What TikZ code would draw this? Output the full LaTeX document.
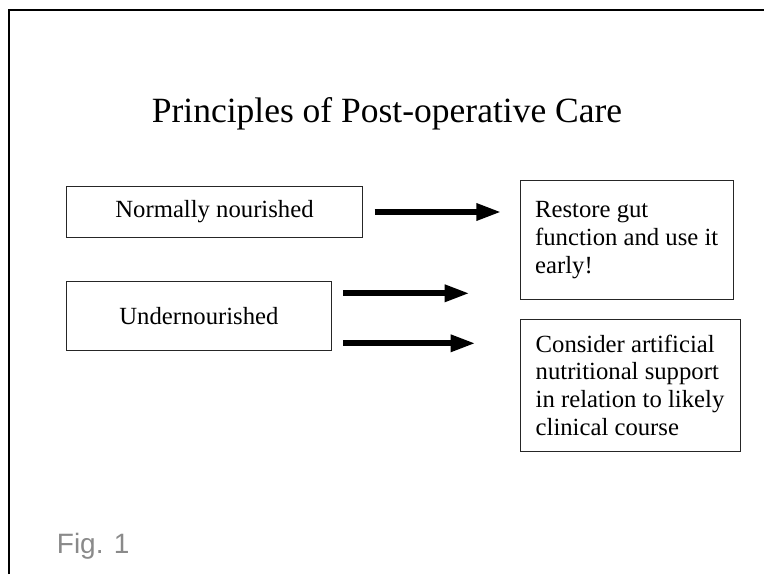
\documentclass[tikz,border=0pt]{standalone}
\usepackage{fontspec}
\usepackage{xcolor}
\usepackage{tikz}
\usetikzlibrary{arrows.meta}
\setmainfont{Liberation Serif}
\newfontfamily\figfont{Liberation Sans}
\definecolor{figgray}{HTML}{8A8A8A}
\begin{document}
\begin{tikzpicture}[x=1pt, y=-1pt,
		box/.style={rectangle, draw=black!85, line width=0.8pt, inner sep=0pt, align=left,
			font={\fontsize{24.7}{27.8}\selectfont}},
		fatarrow/.style={line width=6pt, -{Triangle[length=25pt, width=16pt]}}]
		\useasboundingbox (0,0) rectangle (764,574);
		\draw[line width=1.6pt] (9,574) -- (9,10) -- (764,10);
		\node[inner sep=0pt, anchor=base, font={\fontsize{35.5}{40}\selectfont}] at (387,122) (title){Principles of Post-operative Care};
		\node[box, minimum width=295.6pt, minimum height=50.3pt] at (214.5,212) (norm){Normally nourished};
		\node[box, minimum width=264.3pt, minimum height=69.5pt] at (198.9,315.8) (under){Undernourished};
		\node[box, minimum width=213.3pt, minimum height=118.8pt] at (626.7,240.1) (restore){Restore gut\\function and use it\\early!};
		\node[box, minimum width=220pt, minimum height=131.7pt] at (630,385.2) (consider){Consider artificial\\nutritional support\\in relation to likely\\clinical course};
		\node[inner sep=0pt, anchor=base west, text=figgray, font={\figfont\fontsize{28}{32}\selectfont}] at (56.7,553) (fig){Fig. 1};
		\coordinate (u1) at ([yshift=22.5pt]under.east);
		\coordinate (u2) at ([yshift=-27.5pt]under.east);
		\draw[fatarrow, shorten <=12pt, shorten >=18.3pt] (norm.east) -- (norm.east -| restore.west);
		\draw[fatarrow, shorten <=11.7pt, shorten >=50pt] (u1) -- (u1 -| restore.west);
		\draw[fatarrow, shorten <=11.7pt, shorten >=44pt] (u2) -- (u2 -| consider.west);

	\end{tikzpicture}
\end{document}
